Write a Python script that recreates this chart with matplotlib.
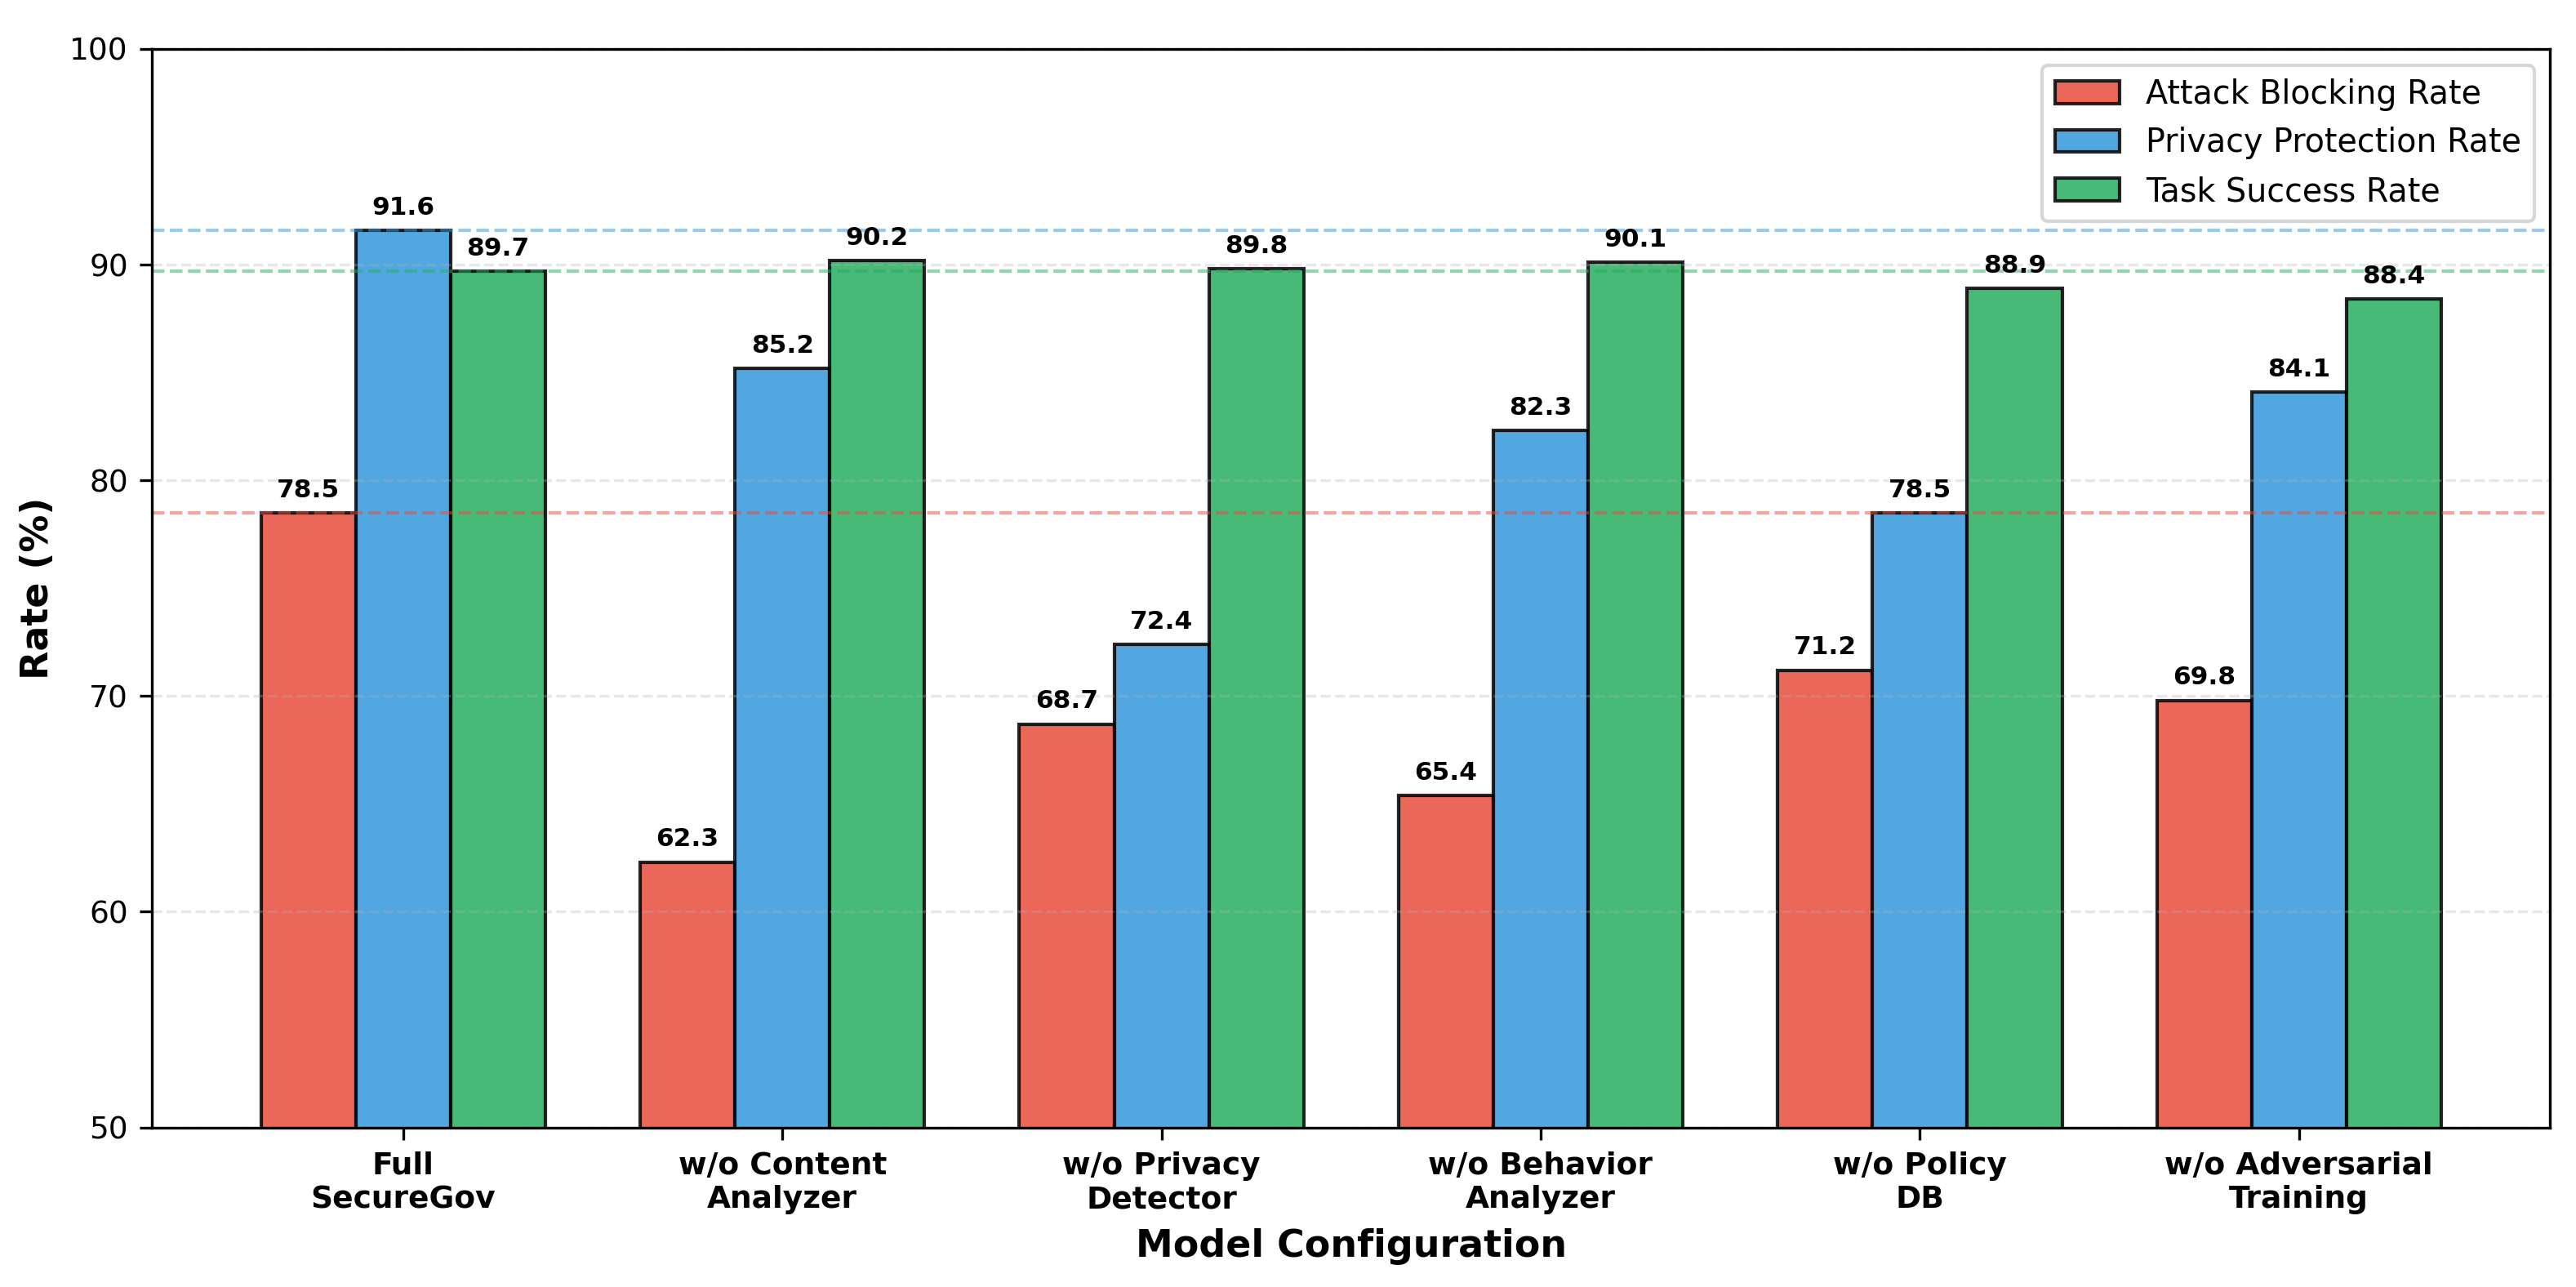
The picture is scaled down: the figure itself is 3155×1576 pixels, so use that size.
import numpy as np
import matplotlib
matplotlib.use("Agg")
import matplotlib.pyplot as plt

# dados
configs = ["Full\nSecureGov", "w/o Content\nAnalyzer", "w/o Privacy\nDetector",
           "w/o Behavior\nAnalyzer", "w/o Policy\nDB", "w/o Adversarial\nTraining"]
attack_blocking = [78.5, 62.3, 68.7, 65.4, 71.2, 69.8]
privacy_protection = [91.6, 85.2, 72.4, 82.3, 78.5, 84.1]
task_success = [89.7, 90.2, 89.8, 90.1, 88.9, 88.4]

series_names = ["Attack Blocking Rate", "Privacy Protection Rate", "Task Success Rate"]
colors = ["#e74c3c", "#3498db", "#27ae60"]

fig = plt.figure(figsize=(3155 / 300, 1576 / 300), dpi=300)
ax = fig.add_axes([0.059, 0.124, 0.931, 0.838])

x = np.arange(len(configs))
width = 0.25
all_series = [attack_blocking, privacy_protection, task_success]

for i, (vals, name, c) in enumerate(zip(all_series, series_names, colors)):
    bars = ax.bar(x + (i - 1) * width, vals, width, label=name, color=c,
                  alpha=0.85, edgecolor="black", linewidth=1)
    for b, v in zip(bars, vals):
        ax.text(b.get_x() + b.get_width() / 2, v + 0.5, f"{v:.1f}",
                ha="center", va="bottom", fontsize=7.5, fontweight="bold")

# linhas de referência (modelo completo)
for vals, c in zip(all_series, colors):
    ax.axhline(vals[0], color=c, linestyle="--", alpha=0.5, linewidth=1)

ax.set_ylim(50, 100)
ax.set_xticks(x)
ax.set_xticklabels(configs, fontsize=9, fontweight="bold")
ax.tick_params(axis="y", labelsize=9)
ax.set_xlabel("Model Configuration", fontsize=11, fontweight="bold")
ax.set_ylabel("Rate (%)", fontsize=11, fontweight="bold")
ax.grid(axis="y", linestyle="--", alpha=0.3)
ax.legend(loc="upper right", fontsize=9.5)

fig.savefig("out.png", dpi=300)
